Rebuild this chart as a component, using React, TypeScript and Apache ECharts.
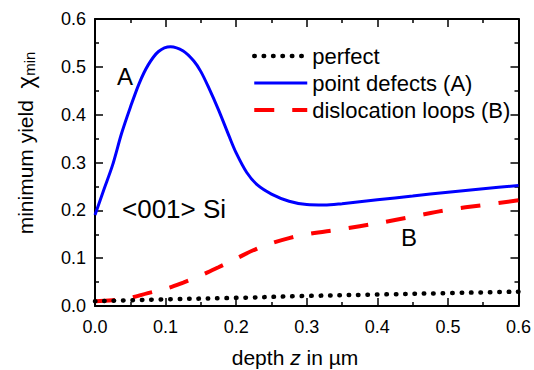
import React, { useEffect, useRef } from "react";
import * as echarts from "echarts";

const perfectZ = [0, 0.1, 0.2, 0.3, 0.4, 0.5, 0.6];
const perfectY = [0.01, 0.014, 0.017, 0.021, 0.024, 0.027, 0.03];

const pointZ = [0, 0.0125, 0.025, 0.0375, 0.05, 0.0625, 0.075, 0.09, 0.107, 0.125, 0.14, 0.15, 0.16, 0.175, 0.19, 0.2, 0.215, 0.23, 0.25, 0.275, 0.3, 0.325, 0.35, 0.4, 0.45, 0.5, 0.55, 0.6];
const pointY = [0.19, 0.243, 0.295, 0.36, 0.415, 0.465, 0.503, 0.532, 0.542, 0.533, 0.512, 0.49, 0.46, 0.41, 0.355, 0.32, 0.279, 0.253, 0.234, 0.219, 0.212, 0.211, 0.214, 0.222, 0.23, 0.238, 0.245, 0.252];

const loopZ = [0, 0.025, 0.05, 0.075, 0.1, 0.125, 0.15, 0.175, 0.2, 0.225, 0.25, 0.275, 0.3, 0.35, 0.4, 0.45, 0.5, 0.55, 0.6];
const loopY = [0.01, 0.012, 0.017, 0.027, 0.036, 0.049, 0.064, 0.081, 0.099, 0.117, 0.131, 0.142, 0.15, 0.161, 0.173, 0.187, 0.201, 0.211, 0.221];

const seriesNames = ["perfect", "point defects (A)", "dislocation loops (B)"];

const FONT = "Liberation Sans";

function pairs(xs: number[], ys: number[]) {
  return xs.map((x, i) => [x, ys[i]]);
}

const dotStyle = { color: "#000", width: 4.5, type: [0.5, 8.9], cap: "round" };
const solidStyle = { color: "#0000ff", width: 3 };
const dashStyle = { color: "#ff0000", width: 4, type: [20, 18] };

export default function App() {
  const ref = useRef<HTMLDivElement>(null);
  useEffect(() => {
    if (!ref.current) return;
    const chart = echarts.init(ref.current, undefined, { renderer: "svg" });
    const axisCommon = {
      type: "value" as const,
      axisLine: { show: true, onZero: false, lineStyle: { color: "#000", width: 2 } },
      axisTick: { show: true, inside: true, length: 8, lineStyle: { color: "#000", width: 1.5 } },
      minorTick: { show: true, splitNumber: 2, length: 4, lineStyle: { color: "#000", width: 1.5 } },
      splitLine: { show: false },
    };
    chart.setOption({
      animation: false,
      backgroundColor: "#fff",
      grid: { left: 95, right: 11, top: 19, bottom: 64, containLabel: false },
      xAxis: [
        {
          ...axisCommon,
          min: 0,
          max: 0.6,
          interval: 0.1,
          axisLabel: {
            margin: 12,
            fontSize: 18,
            fontFamily: FONT,
            color: "#000",
            formatter: (v: number) => v.toFixed(1),
          },
        },
        {
          ...axisCommon,
          position: "top",
          min: 0,
          max: 0.6,
          interval: 0.1,
          axisLabel: { show: false },
        },
      ],
      yAxis: [
        {
          ...axisCommon,
          min: 0,
          max: 0.6,
          interval: 0.1,
          axisLabel: {
            margin: 9,
            fontSize: 18,
            fontFamily: FONT,
            color: "#000",
            formatter: (v: number) => v.toFixed(1),
          },
        },
        {
          ...axisCommon,
          position: "right",
          min: 0,
          max: 0.6,
          interval: 0.1,
          axisLabel: { show: false },
        },
      ],
      legend: {
        orient: "vertical",
        left: 252,
        top: 45,
        padding: 0,
        itemWidth: 53,
        itemHeight: 14,
        itemGap: 5,
        itemStyle: { opacity: 0 },
        textStyle: { fontSize: 22, fontFamily: FONT, color: "#000" },
        data: [
          { name: seriesNames[0], lineStyle: dotStyle },
          { name: seriesNames[1], lineStyle: solidStyle },
          { name: seriesNames[2], lineStyle: dashStyle },
        ],
      },
      series: [
        {
          name: seriesNames[0],
          type: "line",
          data: pairs(perfectZ, perfectY),
          symbol: "none",
          smooth: true,
          lineStyle: dotStyle,
          itemStyle: { color: "#000" },
          z: 3,
        },
        {
          name: seriesNames[1],
          type: "line",
          data: pairs(pointZ, pointY),
          symbol: "none",
          smooth: 0.3,
          lineStyle: solidStyle,
          itemStyle: { color: "#0000ff" },
          z: 2,
        },
        {
          name: seriesNames[2],
          type: "line",
          data: pairs(loopZ, loopY),
          symbol: "none",
          smooth: 0.4,
          lineStyle: dashStyle,
          itemStyle: { color: "#ff0000" },
          z: 2,
        },
      ],
      graphic: [
        {
          type: "text",
          x: 125,
          y: 76,
          style: { text: "A", fontSize: 24, fontFamily: FONT, fill: "#000", align: "center", verticalAlign: "middle" },
        },
        {
          type: "text",
          x: 409,
          y: 237,
          style: { text: "B", fontSize: 24, fontFamily: FONT, fill: "#000", align: "center", verticalAlign: "middle" },
        },
        {
          type: "text",
          x: 122,
          y: 209,
          style: { text: "<001> Si", fontSize: 26, fontFamily: FONT, fill: "#000", align: "left", verticalAlign: "middle" },
        },
        {
          type: "text",
          x: 295,
          y: 357,
          style: {
            text: "depth {i|z} in µm",
            fontSize: 21,
            fontFamily: FONT,
            fill: "#000",
            align: "center",
            verticalAlign: "middle",
            rich: {
              i: { fontSize: 21, fontFamily: FONT, fontStyle: "italic", fill: "#000" },
            },
          },
        },
        {
          type: "text",
          x: 25,
          y: 143,
          rotation: Math.PI / 2,
          style: {
            text: "minimum yield  {chi|χ}{sub|min}",
            fontSize: 21,
            fontFamily: FONT,
            fill: "#000",
            align: "center",
            verticalAlign: "middle",
            rich: {
              chi: { fontSize: 24, fontFamily: FONT, fill: "#000" },
              sub: { fontSize: 15, fontFamily: FONT, fill: "#000", padding: [8, 0, 0, 0] },
            },
          },
        },
      ],
    });
    return () => chart.dispose();
  }, []);
  return (
    <div
      ref={ref}
      style={{ position: "fixed", left: 0, top: 0, width: 534, height: 370 }}
    />
  );
}
